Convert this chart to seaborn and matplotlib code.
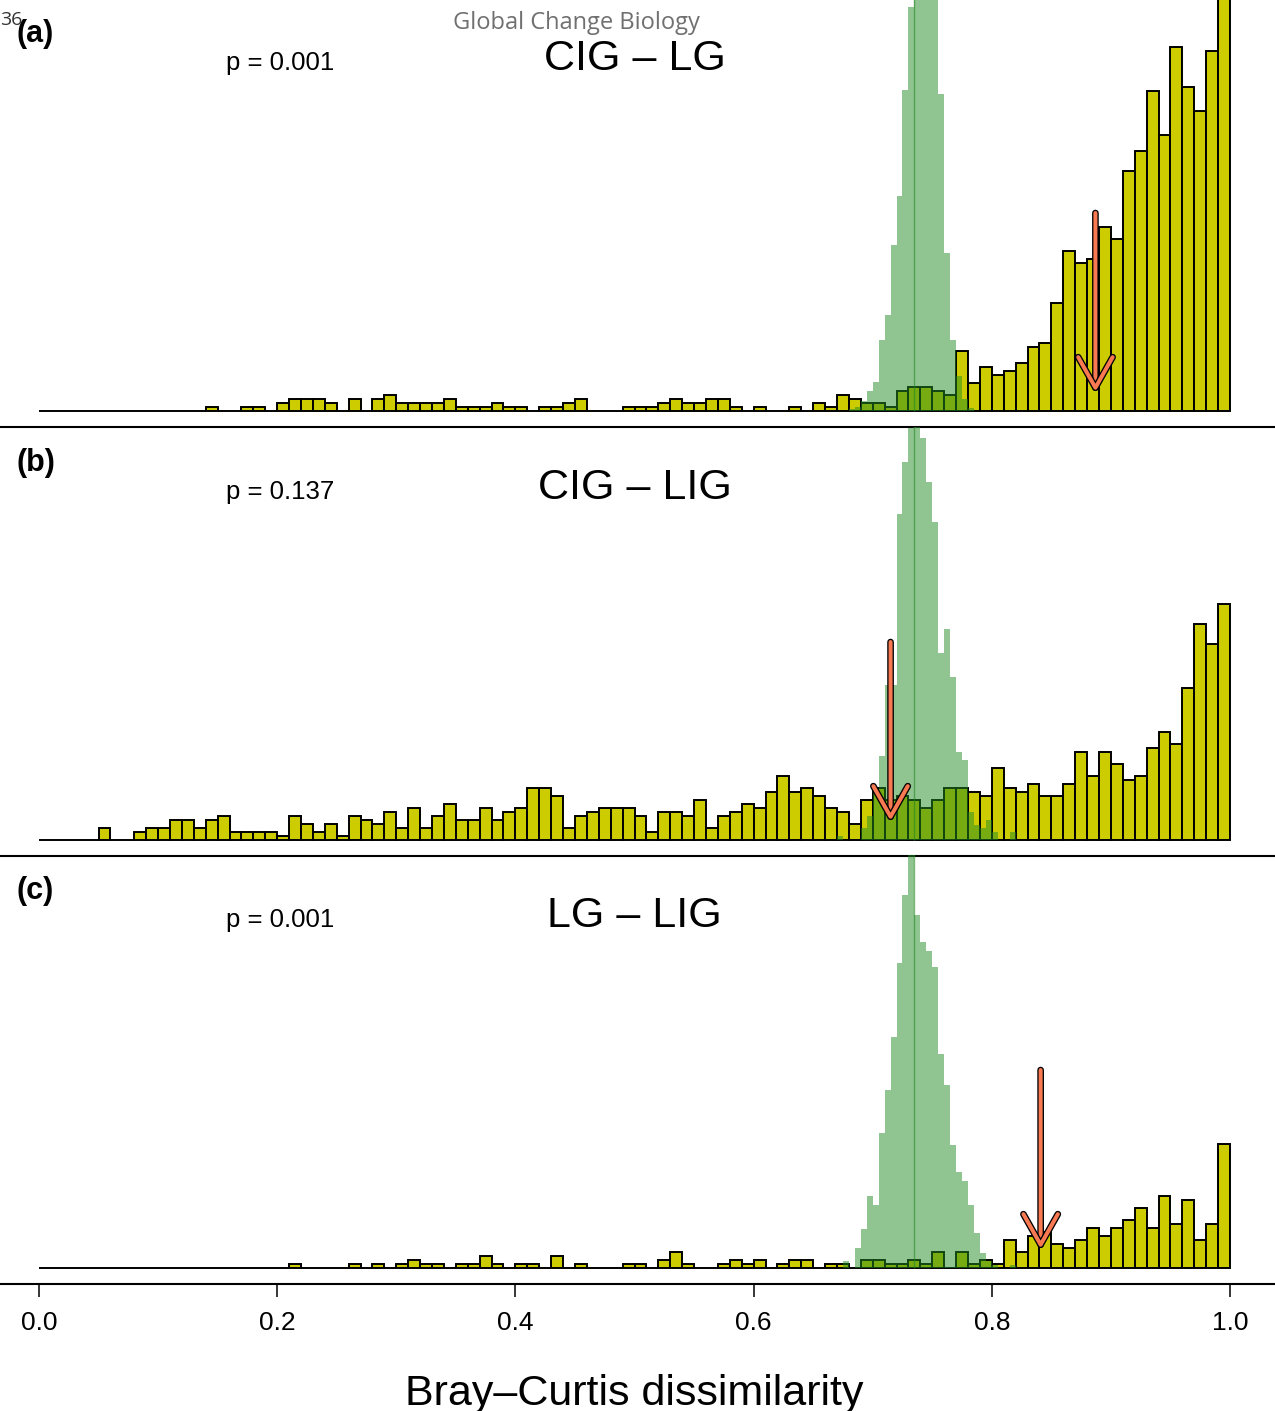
import numpy as np
import pandas as pd
import matplotlib
matplotlib.use("Agg")
import matplotlib.pyplot as plt
import matplotlib.patheffects as pe
import seaborn as sns

# config
OUT_FILE = "out.png"
YELLOW = "#CCCC00"
NULL_GREEN = "forestgreen"
ARROW_COL = "#F97A52"

# observed dissimilarities: counts per 0.01 bin (0.00 .. 0.99)
bin_edges = [round(0.01 * k, 2) for k in range(101)]

counts_cig_lg = [
    0, 0, 0, 0, 0, 0, 0, 0, 0, 0, 0, 0, 0, 0, 1, 0, 0, 1, 1, 0,
    2, 3, 3, 3, 2, 0, 3, 0, 3, 4, 2, 2, 2, 2, 3, 1, 1, 1, 2, 1,
    1, 0, 1, 1, 2, 3, 0, 0, 0, 1, 1, 1, 2, 3, 2, 2, 3, 3, 1, 0,
    1, 0, 0, 1, 0, 2, 1, 4, 3, 2, 2, 1, 5, 6, 6, 5, 4, 15, 7, 11,
    9, 10, 12, 16, 17, 27, 40, 37, 38, 46, 43, 60, 65, 80, 69, 91, 81, 75, 90, 110,
]
counts_cig_lig = [
    0, 0, 0, 0, 0, 3, 0, 0, 2, 3, 3, 5, 5, 3, 5, 6, 2, 2, 2, 2,
    1, 6, 4, 2, 4, 1, 6, 5, 4, 7, 3, 8, 3, 6, 9, 5, 5, 8, 5, 7,
    8, 13, 13, 11, 3, 6, 7, 8, 8, 8, 6, 2, 7, 7, 6, 10, 3, 6, 7, 9,
    8, 12, 16, 12, 13, 11, 8, 7, 4, 10, 13, 10, 11, 10, 8, 10, 13, 13, 12, 11,
    18, 13, 12, 14, 11, 11, 14, 22, 16, 22, 19, 15, 16, 23, 27, 24, 38, 54, 49, 59,
]
counts_lg_lig = [
    0, 0, 0, 0, 0, 0, 0, 0, 0, 0, 0, 0, 0, 0, 0, 0, 0, 0, 0, 0,
    0, 1, 0, 0, 0, 0, 1, 0, 1, 0, 1, 2, 1, 1, 0, 1, 1, 3, 1, 0,
    1, 1, 0, 3, 0, 1, 0, 0, 0, 1, 1, 0, 2, 4, 1, 0, 0, 1, 2, 1,
    2, 0, 1, 2, 2, 0, 1, 1, 0, 2, 2, 1, 1, 2, 1, 4, 0, 4, 1, 2,
    1, 7, 4, 8, 9, 6, 5, 7, 10, 8, 10, 12, 15, 10, 18, 11, 17, 7, 11, 31,
]

# permutation (null) distributions: 0.005 bins starting at 0.670
null_start = 0.67
null_width = 0.005
null_cig_lg = [0, 0, 0.5, 1, 2.5, 4.9, 7.2, 17.8, 24, 41.6, 53.7, 80.3, 101, 130, 145,
               135, 110, 79.3, 39.6, 17.8, 8.8, 2.9, 0.8, 0, 0, 0, 0, 0, 0, 0]
null_cig_lig = [1, 0, 0, 0, 2.9, 6, 12, 21, 38.75, 38.75, 81.4, 94.4, 103, 106, 100.4,
                89.6, 79.4, 46.7, 52.75, 40.7, 22, 20, 6.9, 3.75, 2.9, 5, 2, 0, 0, 2]
null_lg_lig = [0, 1.8, 0, 5, 9.8, 17.9, 15.8, 33.7, 44.6, 57.7, 76.3, 93.3, 112, 88.3, 81.4,
               79.2, 75.3, 53.6, 45.7, 30.8, 23.9, 21.8, 15.8, 8.8, 3.75, 1.7, 0.7, 0, 0, 0.8]

panel_tags = ["(a)", "(b)", "(c)"]
panel_titles = ["CIG \u2013 LG", "CIG \u2013 LIG", "LG \u2013 LIG"]
p_labels = ["p = 0.001", "p = 0.137", "p = 0.001"]
null_means = [0.735, 0.735, 0.735]
observed_means = [0.887, 0.715, 0.841]
x_ticks = [0.0, 0.2, 0.4, 0.6, 0.8, 1.0]
x_tick_labels = ["0.0", "0.2", "0.4", "0.6", "0.8", "1.0"]

sns.set_style("white")
plt.rcParams["font.family"] = ["Liberation Sans", "DejaVu Sans"]
plt.rcParams["text.color"] = "black"
plt.rcParams["xtick.color"] = "black"
plt.rcParams["xtick.labelcolor"] = "black"


def draw_panel(ax, counts, null_counts, null_mean, obs, tag, title, ptxt):
    obs_df = pd.DataFrame({
        "centre": [e + 0.005 for e in bin_edges[:-1]],
        "count": counts,
    })
    sns.histplot(data=obs_df, x="centre", weights="count", bins=bin_edges, ax=ax,
                 color=YELLOW, alpha=1, edgecolor="black", linewidth=1.4)

    null_edges = [round(null_start + null_width * j, 3) for j in range(len(null_counts) + 1)]
    null_df = pd.DataFrame({
        "centre": [e + null_width / 2 for e in null_edges[:-1]],
        "count": null_counts,
    })
    sns.histplot(data=null_df, x="centre", weights="count", bins=null_edges, ax=ax,
                 element="step", fill=True, color=NULL_GREEN, alpha=0.5, linewidth=0)
    ax.vlines(null_mean, 0, 110, color=NULL_GREEN, alpha=0.6, lw=1)

    # observed mean arrow, coral with a black outline
    ax.annotate("", xy=(obs, 4.8), xytext=(obs, 49.5),
                arrowprops=dict(arrowstyle="->,head_length=1.1,head_width=0.62",
                                lw=2.9, color=ARROW_COL, shrinkA=0, shrinkB=0,
                                mutation_scale=20, capstyle="round",
                                joinstyle="round",
                                path_effects=[pe.Stroke(linewidth=4.8, foreground="black",
                                                        capstyle="round", joinstyle="round"),
                                              pe.Normal()]))

    ax.text(-0.0185, 92.3, tag, fontsize=22, fontweight="bold", va="baseline")
    ax.text(0.157, 85.3, ptxt, fontsize=18.5, va="baseline")
    ax.text(0.5, 85.3, title, fontsize=31, ha="center", va="baseline")

    ax.set_xlim(-39 / 1191, 1236 / 1191)
    ax.set_ylim(-4, 103.2)
    ax.set_xlabel("")
    ax.set_ylabel("")
    ax.set_yticks([])
    ax.patch.set_visible(False)
    for side in ["top", "left", "right"]:
        ax.spines[side].set_visible(False)
    ax.spines["bottom"].set_linewidth(1.5)
    ax.spines["bottom"].set_color("black")
    ax.spines["bottom"].set_zorder(5)


def main():
    fig = plt.figure(figsize=(12.75, 14.11), dpi=100)
    H = 1411
    bottoms = [427, 856, 1284]
    panel_h = 107.2 * 4

    all_counts = [counts_cig_lg, counts_cig_lig, counts_lg_lig]
    all_null = [null_cig_lg, null_cig_lig, null_lg_lig]

    axes = []
    for i in range(3):
        ax = fig.add_axes([0, 1 - bottoms[i] / H, 1, panel_h / H])
        draw_panel(ax, all_counts[i], all_null[i], null_means[i], observed_means[i],
                   panel_tags[i], panel_titles[i], p_labels[i])
        axes.append(ax)

    for ax in axes[:2]:
        ax.set_xticks([])
    axes[2].set_xticks(x_ticks)
    axes[2].set_xticklabels(x_tick_labels)
    axes[2].tick_params(axis="x", length=9.4, width=1.1, pad=10, labelsize=19,
                        bottom=True, color="black")

    fig.text(634 / 1275, 1 - 1405 / H, "Bray\u2013Curtis dissimilarity",
             fontsize=31, ha="center", va="baseline")
    fig.text(576.5 / 1275, 1 - 29 / H, "Global Change Biology", fontsize=17,
             ha="center", va="baseline", color="#707070",
             family=["Open Sans", "DejaVu Sans"])
    fig.text(0.0, 1 - 25 / H, "36", fontsize=14, va="baseline", color="#333333",
             family=["Open Sans", "DejaVu Sans"])

    fig.savefig(OUT_FILE, dpi=100)


if __name__ == "__main__":
    main()
